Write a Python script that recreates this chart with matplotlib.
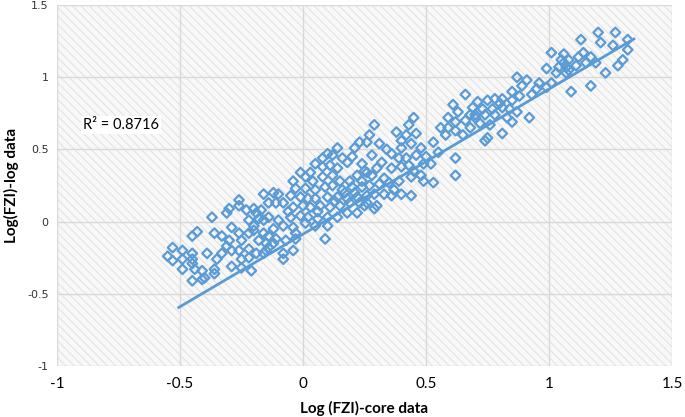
import matplotlib
matplotlib.use("Agg")
import matplotlib.pyplot as plt
from matplotlib.patches import Rectangle
import numpy as np

# ---- data ----
core_x = [
    -0.53, -0.49, -0.45, -0.53, -0.49, -0.45, -0.49, -0.45, -0.44, -0.41,
    -0.39, -0.35, -0.45, -0.41, -0.36, -0.36, -0.45, -0.43, -0.37, -0.36,
    -0.33, -0.30, -0.26, -0.31, -0.29, -0.30, -0.26, -0.25, -0.22, -0.22,
    -0.23, -0.19, -0.16, -0.16, -0.12, -0.14, -0.29, -0.26, -0.22, -0.29,
    -0.25, -0.22, -0.25, -0.21, -0.18, -0.14, -0.14, -0.16, -0.19, -0.12,
    -0.40, -0.26, -0.08, -0.04, 0.09, -0.03, -0.07, -0.55,
    0.29, 0.27, 0.26, 0.23, 0.21, 0.14, 0.12, 0.16, 0.18, 0.08,
    0.05, 0.03, 0.08, 0.11, 0.14, -0.01, 0.01, 0.04, 0.08, 0.12,
    0.15, 0.19, 0.22, 0.25, 0.28, 0.24, -0.04, -0.03, 0.01, 0.05,
    0.09, 0.12, 0.16, 0.20, 0.24, 0.27, 0.29, 0.26, 0.22, 0.18,
    0.14, 0.10, 0.05, 0.02, -0.01, -0.05, -0.10, -0.20, -0.17, -0.11,
    -0.08, -0.04, 0.00, 0.03, 0.07, 0.11, 0.15, 0.19, 0.23, 0.26,
    0.29, -0.18, -0.14, -0.10, -0.05, -0.01, 0.02, 0.06, 0.10, 0.14,
    0.18, 0.22, -0.20, -0.16, -0.12, -0.08, -0.04, 0.01, 0.05, 0.10,
    -0.15, -0.11, -0.03, -0.08, -0.15,
    0.66, 0.61, 0.69, 0.73, 0.63, 0.59, 0.62, 0.66, 0.70, 0.56,
    0.59, 0.62, 0.68, 0.58, 0.74, 0.45, 0.43, 0.46, 0.42, 0.40,
    0.40, 0.44, 0.48, 0.31, 0.28, 0.32, 0.36, 0.39, 0.42, 0.46,
    0.49, 0.52, 0.24, 0.26, 0.30, 0.36, 0.40, 0.43, 0.62, 0.62,
    0.31, 0.35, 0.39, 0.44, 0.48, 0.49, 0.53, 0.33, 0.36, 0.40,
    0.44, 0.30, 0.25,
    1.20, 1.13, 1.21, 1.01, 1.14, 1.08, 1.12, 1.05, 1.15, 0.99,
    1.04, 1.07, 1.11, 1.03, 1.07, 1.23, 0.87, 0.91, 0.95, 0.99,
    1.01, 0.89, 1.17, 1.09, 0.85, 0.93, 0.81, 0.78, 0.75, 0.71,
    0.85, 0.77, 0.81, 0.84, 0.70, 0.74, 0.78, 0.83, 0.87, 0.92,
    0.72, 0.76, 0.85, 0.81, 0.75,
    1.27, 1.32, 1.26, 1.32, 1.06, 1.19, 1.30, 1.28, 1.17, 1.08,
    -0.33, -0.31, -0.20, -0.06, 0.06, 0.13, 0.17, 0.21, 0.33, 0.37,
    0.45, 0.50, 0.55, 0.53, 0.65, 0.68, 0.80, 0.88, 0.96, 1.06,
    0.10, 0.20, 0.34, 0.38,
]
log_y = [
    -0.18, -0.20, -0.22, -0.27, -0.26, -0.26, -0.33, -0.29, -0.33, -0.34,
    -0.22, -0.26, -0.41, -0.40, -0.36, -0.33, -0.10, -0.07, 0.03, -0.08,
    -0.10, 0.09, 0.11, 0.06, -0.04, -0.13, -0.08, -0.13, -0.08, 0.01,
    0.08, 0.06, 0.01, 0.19, 0.20, 0.13, -0.20, -0.20, -0.19, -0.31,
    -0.26, -0.25, -0.32, -0.34, -0.13, -0.10, -0.18, -0.22, -0.22, -0.15,
    -0.39, 0.15, -0.26, -0.20, -0.12, -0.12, -0.13, -0.24,
    0.67, 0.60, 0.55, 0.55, 0.51, 0.51, 0.46, 0.44, 0.41, 0.44,
    0.40, 0.34, 0.38, 0.39, 0.37, 0.34, 0.31, 0.28, 0.31, 0.32,
    0.28, 0.28, 0.32, 0.35, 0.32, 0.28, 0.28, 0.23, 0.23, 0.22,
    0.24, 0.25, 0.22, 0.24, 0.24, 0.25, 0.19, 0.18, 0.17, 0.16,
    0.17, 0.17, 0.16, 0.16, 0.17, 0.18, 0.19, 0.09, 0.08, 0.13,
    0.13, 0.10, 0.11, 0.10, 0.11, 0.10, 0.11, 0.13, 0.13, 0.13,
    0.09, 0.02, 0.03, 0.01, 0.03, 0.04, 0.03, 0.02, 0.03, 0.03,
    0.06, 0.06, -0.06, -0.08, -0.05, -0.03, -0.04, -0.01, -0.03, -0.03,
    -0.15, -0.12, -0.08, -0.22, -0.20,
    0.88, 0.81, 0.79, 0.78, 0.76, 0.72, 0.69, 0.70, 0.72, 0.65,
    0.65, 0.63, 0.65, 0.60, 0.56, 0.72, 0.67, 0.61, 0.60, 0.56,
    0.51, 0.54, 0.51, 0.54, 0.46, 0.41, 0.47, 0.44, 0.44, 0.46,
    0.40, 0.40, 0.40, 0.34, 0.37, 0.37, 0.38, 0.39, 0.44, 0.32,
    0.26, 0.27, 0.28, 0.31, 0.32, 0.28, 0.27, 0.19, 0.18, 0.19,
    0.18, 0.11, 0.11,
    1.31, 1.26, 1.24, 1.17, 1.17, 1.12, 1.14, 1.12, 1.10, 1.06,
    1.07, 1.07, 1.08, 1.03, 1.03, 1.03, 1.00, 0.98, 0.92, 0.93,
    0.96, 0.94, 0.94, 0.90, 0.90, 0.88, 0.85, 0.85, 0.84, 0.83,
    0.84, 0.78, 0.79, 0.78, 0.74, 0.74, 0.74, 0.72, 0.76, 0.72,
    0.68, 0.67, 0.69, 0.61, 0.58,
    1.31, 1.26, 1.22, 1.19, 1.10, 1.10, 1.12, 1.08, 1.14, 1.05,
    -0.22, -0.17, -0.03, 0.07, 0.07, 0.14, 0.20, 0.20, 0.30, 0.22,
    0.35, 0.45, 0.48, 0.55, 0.60, 0.74, 0.82, 0.87, 0.96, 1.16,
    0.47, 0.45, 0.50, 0.62,
]

trend_slope = 1.005
trend_intercept = -0.087
trend_x_range = [-0.51, 1.35]
r2_text = "R\u00b2 = 0.8716"

x_ticks = [-1, -0.5, 0, 0.5, 1, 1.5]
y_ticks = [-1, -0.5, 0, 0.5, 1, 1.5]
x_label = "Log (FZI)-core data"
y_label = "Log(FZI)-log data"

blue = "#5B9BD5"

plt.rcParams["hatch.color"] = "#e4e4e4"
plt.rcParams["hatch.linewidth"] = 0.8

fig = plt.figure(figsize=(6.85, 4.17), dpi=100)
ax = fig.add_axes([0.0832, 0.1223, 0.8978, 0.8657])

# hatched plot-area background
ax.set_facecolor("white")
bg = Rectangle((0, 0), 1, 1, transform=ax.transAxes, facecolor="#f8f8f8",
               edgecolor="#e4e4e4", hatch="\\\\\\\\", linewidth=0, zorder=0)
ax.add_patch(bg)

ax.set_xlim(-1, 1.5)
ax.set_ylim(-1, 1.5)
ax.set_xticks(x_ticks)
ax.set_yticks(y_ticks)
ax.set_xticklabels([f"{t:g}" for t in x_ticks], fontsize=11, family="Lato")
ax.set_yticklabels([f"{t:g}" for t in y_ticks], fontsize=8, family="DejaVu Sans",
                   color="#333333")
ax.tick_params(axis="both", length=0)
ax.tick_params(axis="x", pad=8)
ax.tick_params(axis="y", pad=6)
ax.grid(True, color="#d9d9d9", linewidth=1.0, zorder=1)
ax.set_axisbelow(True)
for s in ax.spines.values():
    s.set_visible(False)

ax.scatter(core_x, log_y, marker="D", s=24, facecolors="none",
           edgecolors=blue, linewidths=1.6, zorder=3)

tx = np.array(trend_x_range)
ax.plot(tx, trend_slope * tx + trend_intercept, color=blue, linewidth=2.0,
        zorder=4, solid_capstyle="butt")

ax.text(-0.895, 0.667, r2_text, fontsize=10.5, family="Lato", va="center",
        ha="left", zorder=5,
        bbox=dict(facecolor="white", edgecolor="none", pad=1.5))

ax.set_xlabel(x_label, fontsize=11, fontweight="bold", family="Lato", labelpad=7)
ax.set_ylabel(y_label, fontsize=11, fontweight="bold", family="Lato", labelpad=6)

fig.savefig("out.png", dpi=100)
